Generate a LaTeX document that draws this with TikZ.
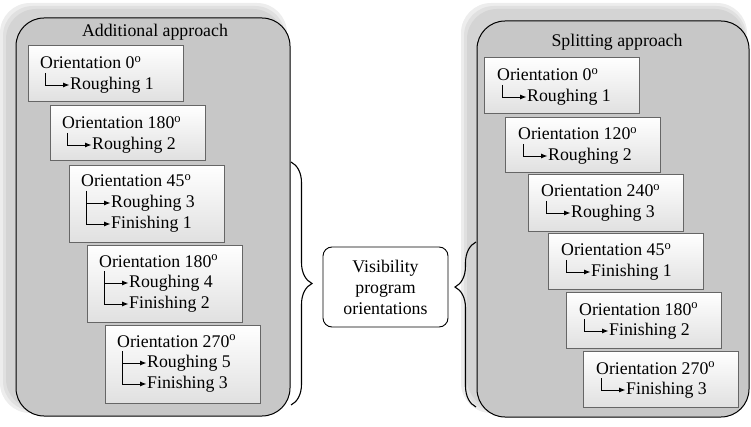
\documentclass[tikz,border=0pt]{standalone}
\usepackage{fontspec}
\setmainfont{Liberation Serif}
\usetikzlibrary{calc,arrows.meta,shadows,decorations.pathreplacing}

\begin{document}
\begin{tikzpicture}[x=1pt,y=-1pt,font=\fontsize{17.8}{21}\selectfont,
    glow/.style={rounded corners=30pt},
    panel/.style={draw=black,line width=1pt,fill=black!22,rounded corners=28pt},
    opbox/.style={draw=black!60,top color=white,bottom color=black!12,
      minimum width=155pt,anchor=north west,inner sep=0pt,
      drop shadow={shadow xshift=1.2pt,shadow yshift=-1.2pt,fill=black!45}},
    ori/.style={anchor=base west,inner sep=0pt},
    op/.style={anchor=west,inner sep=0pt},
    arr/.style={-{Latex[length=6.5pt,width=5pt]},line width=0.9pt,shorten >=0.5pt},
    brc/.style={decorate,line width=1.1pt},
    vis/.style={draw,line width=0.9pt,fill=white,rounded corners=9pt,align=center,
      minimum width=125pt,minimum height=80pt,inner sep=2pt}]
  \useasboundingbox (0,0) rectangle (751,427);

  % left panel
  \fill[glow,black!7] (0,3) rectangle (287,413);
  \fill[glow,black!12] (3,6) rectangle (285,411);
  \fill[glow,black!17] (6,9) rectangle (283,409);
  \draw[panel] (16,18) rectangle (290,416);
  \node[anchor=base] (ltitle) at (155,37) {Additional approach};

  \node[opbox,minimum height=56pt] (l1) at (28,45) {};
  \node[ori] (l1o) at ($(l1.north west)+(12,24)$) {Orientation 0\textsuperscript{o}};
  \node[op] (l1a) at ($(l1o.base west)+(30,16)$) {Roughing 1};
  \coordinate (l1s) at ($(l1o.base west)+(5,4)$);
  \draw[arr] (l1s) |- (l1a.west);

  \node[opbox,minimum height=55pt] (l2) at (50,105) {};
  \node[ori] (l2o) at ($(l2.north west)+(12,24)$) {Orientation 180\textsuperscript{o}};
  \node[op] (l2a) at ($(l2o.base west)+(30,16)$) {Roughing 2};
  \coordinate (l2s) at ($(l2o.base west)+(5,4)$);
  \draw[arr] (l2s) |- (l2a.west);

  \node[opbox,minimum height=77pt] (l3) at (69,165) {};
  \node[ori] (l3o) at ($(l3.north west)+(12,22)$) {Orientation 45\textsuperscript{o}};
  \node[op] (l3a) at ($(l3o.base west)+(30,16)$) {Roughing 3};
  \node[op] (l3b) at ($(l3o.base west)+(30,37)$) {Finishing 1};
  \coordinate (l3s) at ($(l3o.base west)+(5,4)$);
  \draw[arr] (l3s) |- (l3a.west);
  \draw[arr] (l3s) |- (l3b.west);

  \node[opbox,minimum height=77pt] (l4) at (87,245) {};
  \node[ori] (l4o) at ($(l4.north west)+(12,22)$) {Orientation 180\textsuperscript{o}};
  \node[op] (l4a) at ($(l4o.base west)+(30,16)$) {Roughing 4};
  \node[op] (l4b) at ($(l4o.base west)+(30,37)$) {Finishing 2};
  \coordinate (l4s) at ($(l4o.base west)+(5,4)$);
  \draw[arr] (l4s) |- (l4a.west);
  \draw[arr] (l4s) |- (l4b.west);

  \node[opbox,minimum height=78pt] (l5) at (105,325) {};
  \node[ori] (l5o) at ($(l5.north west)+(12,22)$) {Orientation 270\textsuperscript{o}};
  \node[op] (l5a) at ($(l5o.base west)+(30,16)$) {Roughing 5};
  \node[op] (l5b) at ($(l5o.base west)+(30,37)$) {Finishing 3};
  \coordinate (l5s) at ($(l5o.base west)+(5,4)$);
  \draw[arr] (l5s) |- (l5a.west);
  \draw[arr] (l5s) |- (l5b.west);

  % right panel
  \fill[glow,black!7] (461,3) rectangle (747,413);
  \fill[glow,black!12] (464,6) rectangle (746,411);
  \fill[glow,black!17] (467,9) rectangle (745,409);
  \draw[panel] (477,21) rectangle (749,417);
  \node[anchor=base] (rtitle) at (617,47) {Splitting approach};

  \node[opbox,minimum height=56pt] (r1) at (484,57) {};
  \node[ori] (r1o) at ($(r1.north west)+(13,24)$) {Orientation 0\textsuperscript{o}};
  \node[op] (r1a) at ($(r1o.base west)+(30,16)$) {Roughing 1};
  \coordinate (r1s) at ($(r1o.base west)+(5,4)$);
  \draw[arr] (r1s) |- (r1a.west);

  \node[opbox,minimum height=55pt] (r2) at (505,117) {};
  \node[ori] (r2o) at ($(r2.north west)+(13,23)$) {Orientation 120\textsuperscript{o}};
  \node[op] (r2a) at ($(r2o.base west)+(30,16)$) {Roughing 2};
  \coordinate (r2s) at ($(r2o.base west)+(5,4)$);
  \draw[arr] (r2s) |- (r2a.west);

  \node[opbox,minimum height=57pt] (r3) at (528,174) {};
  \node[ori] (r3o) at ($(r3.north west)+(13,23)$) {Orientation 240\textsuperscript{o}};
  \node[op] (r3a) at ($(r3o.base west)+(30,16)$) {Roughing 3};
  \coordinate (r3s) at ($(r3o.base west)+(5,4)$);
  \draw[arr] (r3s) |- (r3a.west);

  \node[opbox,minimum height=56pt] (r4) at (548,233) {};
  \node[ori] (r4o) at ($(r4.north west)+(13,23)$) {Orientation 45\textsuperscript{o}};
  \node[op] (r4a) at ($(r4o.base west)+(30,16)$) {Finishing 1};
  \coordinate (r4s) at ($(r4o.base west)+(5,4)$);
  \draw[arr] (r4s) |- (r4a.west);

  \node[opbox,minimum height=56pt] (r5) at (566,292) {};
  \node[ori] (r5o) at ($(r5.north west)+(13,23)$) {Orientation 180\textsuperscript{o}};
  \node[op] (r5a) at ($(r5o.base west)+(30,16)$) {Finishing 2};
  \coordinate (r5s) at ($(r5o.base west)+(5,4)$);
  \draw[arr] (r5s) |- (r5a.west);

  \node[opbox,minimum height=56pt] (r6) at (583,351) {};
  \node[ori] (r6o) at ($(r6.north west)+(13,23)$) {Orientation 270\textsuperscript{o}};
  \node[op] (r6a) at ($(r6o.base west)+(30,16)$) {Finishing 3};
  \coordinate (r6s) at ($(r6o.base west)+(5,4)$);
  \draw[arr] (r6s) |- (r6a.west);

  % middle
  \node[vis] (vis) at (385.5,287) {Visibility\\program\\orientations};
  \coordinate (lbt) at (291,162);
  \coordinate (lbb) at (291,405);
  \coordinate (rbt) at (476,242);
  \coordinate (rbb) at (476,407);
  \draw[brc,decoration={brace,amplitude=21pt,aspect=0.5}] (lbt) -- (lbb);
  \draw[brc,decoration={brace,amplitude=21pt,aspect=0.727}] (rbb) -- (rbt);
\end{tikzpicture}
\end{document}
